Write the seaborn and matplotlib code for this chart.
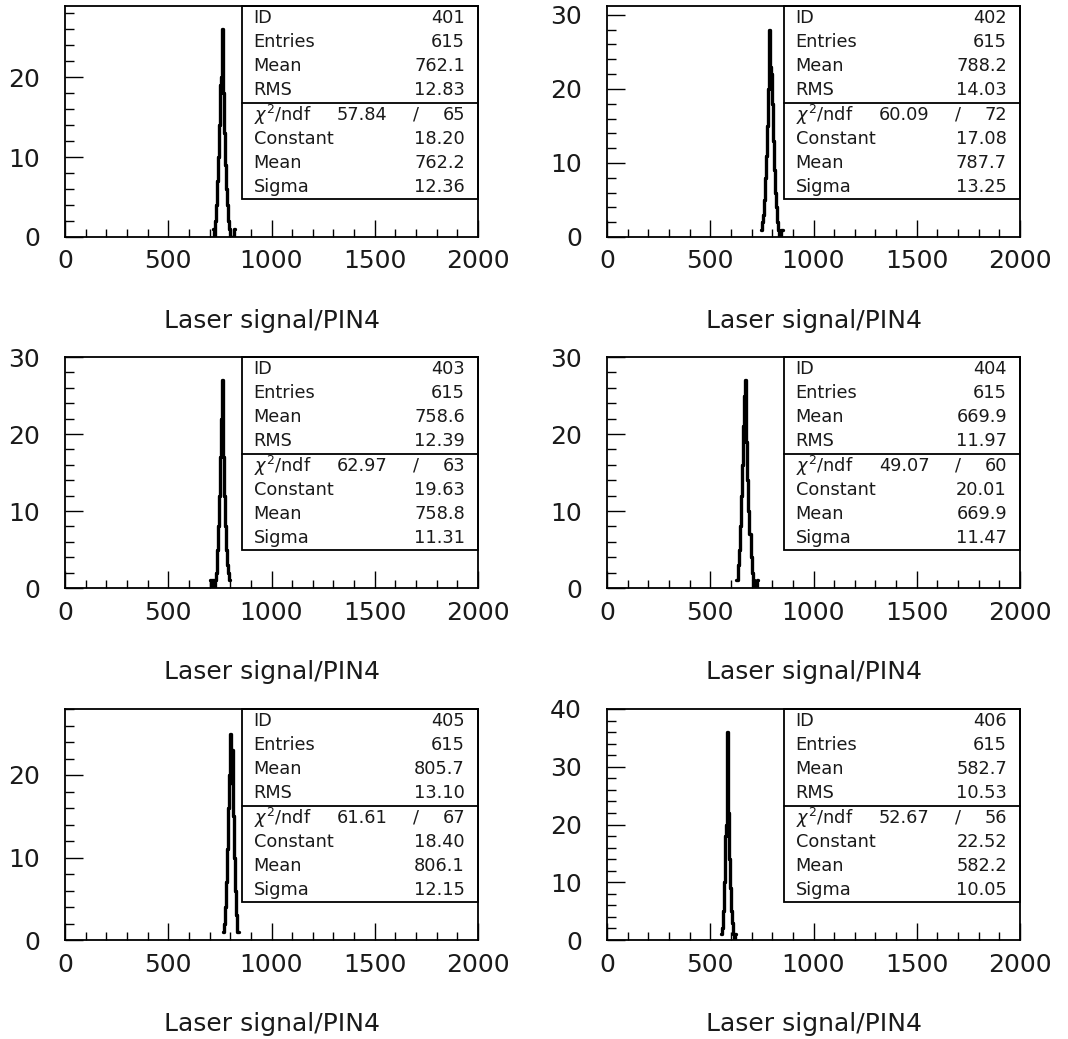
import numpy as np
import pandas as pd
import matplotlib
matplotlib.use("Agg")
import matplotlib.pyplot as plt
from matplotlib.patches import Rectangle
from matplotlib.ticker import MultipleLocator
import seaborn as sns

# ---------------- data ----------------
hist_ids = ["401", "402", "403", "404", "405", "406"]
entries = ["615", "615", "615", "615", "615", "615"]
means = ["762.1", "788.2", "758.6", "669.9", "805.7", "582.7"]
rms_vals = ["12.83", "14.03", "12.39", "11.97", "13.10", "10.53"]
chi2_vals = ["57.84", "60.09", "62.97", "49.07", "61.61", "52.67"]
ndf_vals = ["65", "72", "63", "60", "67", "56"]
constants = ["18.20", "17.08", "19.63", "20.01", "18.40", "22.52"]
fit_means = ["762.2", "787.7", "758.8", "669.9", "806.1", "582.2"]
sigmas = ["12.36", "13.25", "11.31", "11.47", "12.15", "10.05"]
y_max = [28.9, 31.2, 30.0, 30.0, 28.0, 40.0]

bin_width = 5
first_bin = [715, 745, 700, 625, 765, 550]
counts_401 = [1, 0, 2, 4, 7, 10, 14, 19, 20, 26, 18, 13, 9, 6, 4, 2, 1, 0, 0, 0, 0, 1]
counts_402 = [1, 2, 3, 5, 8, 11, 15, 20, 28, 23, 22, 18, 13, 9, 6, 4, 2, 1, 0, 0, 1]
counts_403 = [1, 0, 1, 1, 0, 1, 2, 5, 8, 12, 17, 22, 27, 17, 12, 8, 5, 3, 2, 1]
counts_404 = [1, 1, 3, 5, 8, 12, 16, 21, 25, 27, 19, 14, 10, 7, 4, 2, 1, 0, 0, 0, 1]
counts_405 = [1, 2, 4, 7, 11, 16, 20, 25, 19, 23, 15, 10, 6, 3, 1, 1]
counts_406 = [1, 2, 5, 10, 18, 20, 36, 22, 14, 9, 5, 3, 1, 0, 1]
all_counts = [counts_401, counts_402, counts_403, counts_404, counts_405, counts_406]

x_label = "Laser signal/PIN4"
x_range = (0, 2000)

# ---------------- style ----------------
sns.set_style("white")
plt.rcParams["font.family"] = ["DejaVu Sans"]
plt.rcParams["axes.linewidth"] = 1.3
plt.rcParams["text.color"] = "#1a1a1a"

fig = plt.figure(figsize=(10.68, 10.39), dpi=100)

lefts = [65 / 1068, 607 / 1068]
bottoms = [1 - 237 / 1039, 1 - 588 / 1039, 1 - 940 / 1039]
w = 413 / 1068
h = 231 / 1039

box_x0 = 0.4286
box_y0 = 0.1645
row_h = (1 - box_y0) / 8

for i in range(6):
    r, c = divmod(i, 2)
    ax = fig.add_axes([lefts[c], bottoms[r], w, h])
    counts = [float(v) for v in all_counts[i]]
    edges = [float(first_bin[i] + bin_width * k) for k in range(len(counts) + 1)]
    centers = [e + bin_width / 2 for e in edges[:-1]]
    df = pd.DataFrame({"x": centers, "w": counts})
    sns.histplot(data=df, x="x", weights="w", bins=edges, element="step",
                 fill=False, color="black", linewidth=2.4, ax=ax)
    ax.set_xlim(*x_range)
    ax.set_ylim(0, y_max[i])
    ax.set_ylabel("")
    ax.set_xlabel(x_label, fontsize=18, color="#1a1a1a")
    ax.xaxis.set_label_coords(0.5, -0.31)

    for s in ax.spines.values():
        s.set_color("black")
        s.set_linewidth(1.3)

    ax.xaxis.set_major_locator(MultipleLocator(500))
    ax.xaxis.set_minor_locator(MultipleLocator(100))
    ax.yaxis.set_major_locator(MultipleLocator(10))
    ax.yaxis.set_minor_locator(MultipleLocator(2))
    ax.tick_params(axis="both", which="both", direction="in", colors="black",
                   labelcolor="#1a1a1a", top=False, right=False,
                   bottom=True, left=True, width=1.0)
    ax.tick_params(axis="x", which="major", length=12, labelsize=18, pad=9)
    ax.tick_params(axis="x", which="minor", length=6)
    ax.tick_params(axis="y", which="major", length=13, labelsize=18, pad=18)
    ax.tick_params(axis="y", which="minor", length=6.5)

    # statistics box
    ax.add_patch(Rectangle((box_x0, box_y0), 1 - box_x0, 1 - box_y0,
                           transform=ax.transAxes, fill=False, edgecolor="black",
                           linewidth=1.3, clip_on=False, zorder=5))
    ax.plot([box_x0, 1], [1 - 4 * row_h, 1 - 4 * row_h], transform=ax.transAxes,
            color="black", linewidth=1.3, clip_on=False, zorder=5)
    rows = [
        ("ID", hist_ids[i]),
        ("Entries", entries[i]),
        ("Mean", means[i]),
        ("RMS", rms_vals[i]),
        (None, ndf_vals[i]),
        ("Constant", constants[i]),
        ("Mean", fit_means[i]),
        ("Sigma", sigmas[i]),
    ]
    fs = 12.8
    for k, (lab, val) in enumerate(rows):
        yc = 1 - (k + 0.5) * row_h
        if lab is None:
            ax.text(0.457, yc, r"$\chi^2$/ndf", transform=ax.transAxes,
                    fontsize=fs, ha="left", va="center")
            ax.text(0.658, yc, chi2_vals[i], transform=ax.transAxes,
                    fontsize=fs, ha="left", va="center")
            ax.text(0.85, yc, "/", transform=ax.transAxes,
                    fontsize=fs, ha="center", va="center")
        else:
            ax.text(0.457, yc, lab, transform=ax.transAxes,
                    fontsize=fs, ha="left", va="center")
        ax.text(0.9685, yc, val, transform=ax.transAxes,
                fontsize=fs, ha="right", va="center")

fig.savefig("out.png", dpi=100, facecolor="white")
